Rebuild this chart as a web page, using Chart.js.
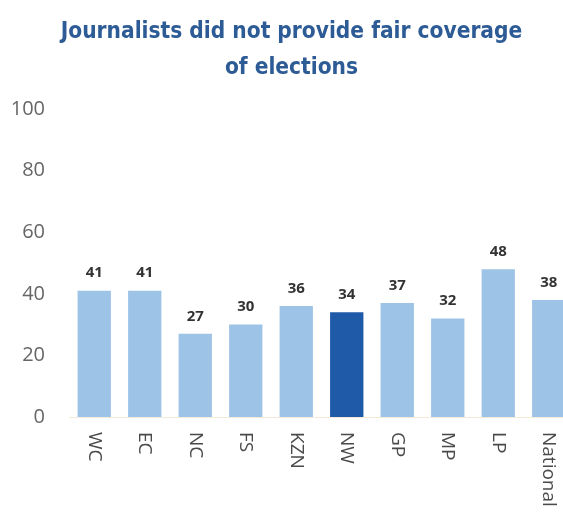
<!DOCTYPE html>
<html>
<head>
<meta charset="utf-8">
<script src="https://cdn.jsdelivr.net/npm/chart.js@4"></script>
<style>
  html, body { margin: 0; padding: 0; background: #fff; overflow: hidden; }
  #wrap { position: absolute; left: 0; top: 0; width: 590px; height: 515px; }
</style>
</head>
<body>
<div id="wrap"><canvas id="chart" width="590" height="515"></canvas></div>
<script>
const provinces = ["WC", "EC", "NC", "FS", "KZN", "NW", "GP", "MP", "LP", "National"];
const unfairCoverage = [41, 41, 27, 30, 36, 34, 37, 32, 48, 38];
const yTicks = [0, 20, 40, 60, 80, 100];
const highlight = "NW";

const LIGHT = "#9dc3e6";
const DARK = "#1f5aa8";

// value labels above each bar
const barValues = {
  id: "barValues",
  afterDatasetsDraw(chart) {
    const ctx = chart.ctx;
    const meta = chart.getDatasetMeta(0);
    ctx.save();
    ctx.font = "bold 15px 'Open Sans'";
    ctx.fillStyle = "#333";
    ctx.textAlign = "center";
    ctx.textBaseline = "bottom";
    meta.data.forEach((bar, i) => {
      ctx.fillText(unfairCoverage[i], bar.x, bar.y - 10);
    });
    ctx.restore();
  }
};

// category names turned clockwise, reading downwards
const downLabels = {
  id: "downLabels",
  afterDraw(chart) {
    const ctx = chart.ctx;
    const xs = chart.scales.x;
    ctx.save();
    ctx.font = "19px 'Open Sans'";
    ctx.fillStyle = "#4a4a4a";
    ctx.textAlign = "left";
    ctx.textBaseline = "middle";
    provinces.forEach((name, i) => {
      ctx.save();
      ctx.translate(xs.getPixelForTick(i), xs.bottom + 15);
      ctx.rotate(Math.PI / 2);
      ctx.fillText(name, 0, 0);
      ctx.restore();
    });
    ctx.restore();
  }
};

new Chart(document.getElementById("chart"), {
  type: "bar",
  data: {
    labels: provinces,
    datasets: [{
      data: unfairCoverage,
      backgroundColor: provinces.map(p => p === highlight ? DARK : LIGHT),
      categoryPercentage: 1,
      barPercentage: 0.66
    }]
  },
  options: {
    responsive: false,
    animation: false,
    layout: { padding: { left: 9, right: 16, top: 0, bottom: 98 } },
    plugins: {
      legend: { display: false },
      tooltip: { enabled: false },
      title: {
        display: true,
        text: ["Journalists did not provide fair coverage", "of elections"],
        color: "#2d5b95",
        font: { family: "'DejaVu Sans Condensed'", size: 22.5, weight: "bold", lineHeight: 1.6 },
        padding: { top: 14, bottom: 23 }
      }
    },
    scales: {
      x: {
        grid: { display: false, drawTicks: false },
        border: { color: "#f3ead9", width: 1 },
        ticks: { display: false },
        afterFit(axis) { axis.height = 0; }
      },
      y: {
        min: 0,
        max: 100,
        afterBuildTicks(axis) { axis.ticks = yTicks.map(v => ({ value: v })); },
        afterFit(axis) { axis.width = 60; },
        grid: { display: false, drawTicks: false },
        border: { display: false },
        ticks: {
          color: "#666",
          font: { family: "'Open Sans'", size: 20 },
          padding: 24
        }
      }
    }
  },
  plugins: [barValues, downLabels]
});
</script>
</body>
</html>
